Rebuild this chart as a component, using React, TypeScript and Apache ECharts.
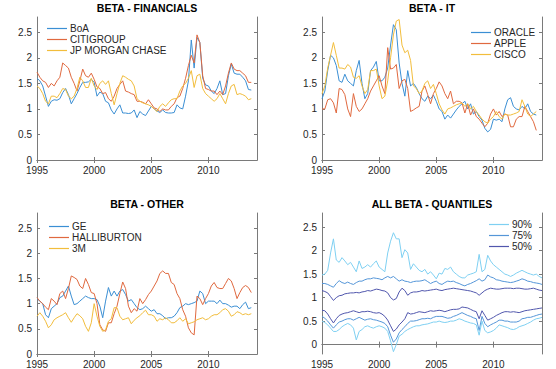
import React, { useEffect, useRef } from "react";
import * as echarts from "echarts";

// ---- data (quarterly, starting 1995 Q1) ----
const START_YEAR = 1995;
const STEP = 0.25;
const xTickYears = [1995, 2000, 2005, 2010];
const yTickValues = [0, 0.5, 1, 1.5, 2, 2.5];

const boa = [1.60,1.55,1.45,1.25, 1.05,1.15,1.18,1.17, 1.20,1.32,1.40,1.28, 1.10,1.20,1.30,1.42, 1.52,1.52,1.53,1.58, 1.52,1.25,1.33,1.30, 1.15,1.12,0.98,0.90, 1.00,1.08,0.92,0.92, 0.91,0.92,0.98,0.83, 0.95,0.90,0.87,0.96, 1.05,1.00,0.96,0.93, 0.98,0.93,0.92,0.92, 0.93,1.08,1.02,1.00, 1.25,1.55,2.35,1.80, 2.40,2.30,1.60,1.47, 1.45,1.35,1.30,1.40, 1.55,1.28,1.30,1.65, 1.88,1.70,1.68,1.68, 1.62,1.55,1.38,1.37];
const citigroup = [1.72,1.62,1.55,1.52, 1.42,1.50,1.45,1.55, 1.62,1.90,1.85,1.80, 1.62,1.50,1.35,1.55, 1.78,1.65,1.62,1.70, 1.58,1.43,1.40,1.30, 1.32,1.20,1.15,1.25, 1.40,1.48,1.55,1.35, 1.33,1.30,1.28,1.15, 1.15,1.13,1.10,1.18, 1.10,1.02,1.00,0.95, 1.00,0.98,0.98,1.05, 1.10,1.22,1.25,1.40, 1.60,1.85,2.05,1.90, 2.45,2.30,1.65,1.40, 1.38,1.35,1.35,1.28, 1.35,1.28,1.45,1.70, 1.90,1.78,1.75,1.75, 1.70,1.65,1.52,1.52];
const jpMorgan = [1.45,1.40,1.30,1.15, 1.10,1.25,1.25,1.22, 1.30,1.40,1.38,1.25, 1.20,1.25,1.40,1.62, 1.55,1.42,1.42,1.60, 1.45,1.38,1.50,1.55, 1.48,1.55,1.30,1.08, 1.30,1.50,1.65,1.62, 1.58,1.55,1.45,1.20, 1.15,1.12,1.10,1.08, 1.05,1.00,0.95,1.05, 1.10,1.05,1.12,1.18, 1.20,1.20,1.35,1.45, 1.50,1.60,1.75,1.42, 1.65,1.68,1.40,1.30, 1.25,1.20,1.15,1.20, 1.30,1.20,1.10,1.30, 1.45,1.48,1.28,1.30, 1.28,1.25,1.18,1.20];

const oracle = [1.20,1.35,1.75,2.05, 2.00,1.85,1.55,1.52, 1.68,1.55,1.50,1.45, 1.75,1.95,1.50,1.20, 1.30,1.75,1.82,1.93, 1.55,1.55,1.62,1.80, 2.25,2.65,2.55,1.90, 1.50,1.25,1.75,1.45, 1.50,1.42,1.30,1.20, 1.15,1.25,1.20,1.27, 1.15,1.00,0.95,0.80, 0.88,0.82,0.90,0.98, 1.05,1.10,1.15,1.00, 1.10,0.90,0.95,0.85, 0.78,0.62,0.55,0.60, 0.80,0.78,0.80,0.75, 1.00,1.18,1.22,1.05, 1.00,0.98,1.05,1.00, 1.10,0.95,0.90,0.88];
const apple = [1.00,1.00,1.18,1.20, 1.12,0.92,1.40,1.38, 1.28,1.00,0.85,1.30, 1.05,0.95,1.00,1.10, 1.20,1.35,1.45,1.55, 1.65,1.45,1.30,2.20, 1.78,1.80,1.87,1.40, 1.55,1.58,1.40,0.95, 0.98,1.02,1.05,1.35, 1.45,1.28,1.10,1.30, 1.40,1.53,1.45,1.30, 1.20,1.35,1.10,1.15, 1.15,1.12,0.92,1.10, 0.88,1.00,0.85,0.80, 0.72,0.65,0.72,0.90, 1.00,0.88,0.95,0.85, 0.90,0.88,0.65,0.65, 0.80,0.85,0.85,1.05, 0.95,0.85,0.75,0.58];
const cisco = [1.30,1.45,1.80,2.05, 2.30,2.05,1.80,1.80, 1.78,1.87,1.82,1.62, 1.60,1.65,1.45,1.30, 1.38,1.75,1.75,1.78, 1.45,1.20,1.25,1.55, 2.00,2.45,2.72,2.75, 2.25,2.10,2.15,1.95, 1.45,1.40,1.30,1.35, 1.50,1.55,1.40,1.48, 1.30,1.10,0.98,0.90, 1.00,1.02,1.05,1.08, 1.10,1.12,1.05,1.10, 1.00,1.05,0.95,0.88, 0.80,0.75,0.72,0.80, 0.85,0.95,0.85,0.80, 0.90,0.88,0.88,0.90, 0.92,0.95,1.18,1.05, 0.90,0.85,0.90,0.95];

const ge = [1.10,1.05,1.00,0.78, 0.72,0.90,0.95,1.00, 1.12,1.15,1.25,1.35, 1.15,0.98,1.00,1.05, 1.10,1.15,1.12,1.10, 1.10,1.08,0.95,0.72, 1.05,1.32,1.15,1.25, 1.15,1.25,1.28,1.18, 1.05,1.08,1.00,0.92, 0.88,0.90,0.95,0.90, 0.85,0.88,0.80,0.80, 0.76,0.70,0.72,0.72, 0.75,0.82,0.92,0.95, 1.00,0.98,1.00,1.02, 1.05,1.25,1.20,1.00, 1.05,1.05,1.05,1.00, 1.07,1.00,1.00,0.97, 0.93,0.95,0.95,0.90, 0.98,1.03,0.90,0.92];
const halliburton = [1.12,1.05,1.00,0.93, 0.88,1.10,1.05,0.98, 1.20,1.25,1.10,1.30, 1.55,1.52,1.48,1.35, 1.30,1.50,1.38,1.22, 1.20,1.00,0.58,0.48, 0.45,0.62,0.62,0.80, 0.95,1.20,1.43,1.30, 0.95,0.82,0.90,0.85, 1.10,1.00,1.08,1.18, 1.25,1.35,1.45,1.60, 1.65,1.60,1.60,1.42, 1.38,1.20,1.10,0.88, 0.75,0.52,0.42,0.38, 1.15,1.10,0.98,1.10, 1.20,1.35,1.42,1.32, 1.30,1.30,1.40,1.50, 1.45,1.30,1.10,1.22, 1.32,1.36,1.32,1.22];
const threeM = [0.75,0.82,0.75,0.65, 0.52,0.58,0.68,0.72, 0.75,0.78,0.82,0.72, 0.63,0.72,0.80,0.76, 0.70,0.55,0.45,0.62, 1.00,0.75,0.55,0.45, 0.48,0.65,0.70,0.92, 0.92,0.75,0.68,0.70, 0.72,0.60,0.67,0.72, 0.76,0.82,0.87,0.78, 0.78,0.75,0.65,0.70, 0.68,0.72,0.68,0.62, 0.62,0.66,0.72,0.65, 0.70,0.60,0.62,0.64, 0.68,0.70,0.72,0.68, 0.70,0.75,0.78,0.78, 0.82,0.88,0.90,0.85, 0.75,0.78,0.84,0.82, 0.78,0.80,0.78,0.80];

const q90Upper = [1.48,1.50,1.58,1.95, 2.25,1.80,1.75,1.85, 1.78,1.70,1.75,1.65, 1.55,1.78,1.62,1.65, 1.70,1.65,1.72,1.78, 1.65,1.60,1.55,1.95, 2.20,2.38,2.25,2.25, 1.85,2.02,1.95,1.60, 1.72,1.65,1.58,1.55, 1.60,1.50,1.55,1.48, 1.40,1.52,1.50,1.62, 1.60,1.65,1.55,1.50, 1.45,1.42,1.42,1.48, 1.50,1.52,1.55,1.92, 1.55,1.60,1.90,1.78, 1.70,1.65,1.60,1.55, 1.50,1.48,1.45,1.48, 1.52,1.55,1.58,1.55, 1.52,1.50,1.48,1.50, 1.45,1.42];
const q75Upper = [1.30,1.30,1.28,1.25, 1.22,1.30,1.36,1.32, 1.30,1.33,1.30,1.28, 1.32,1.35,1.35,1.38, 1.40,1.40,1.42,1.41, 1.40,1.38,1.42,1.45, 1.42,1.45,1.40,1.35, 1.38,1.35,1.34,1.32, 1.34,1.35,1.35,1.36, 1.38,1.34,1.30,1.33, 1.35,1.30,1.28,1.32, 1.35,1.34,1.35,1.32, 1.30,1.27,1.25,1.28, 1.30,1.33,1.36,1.40, 1.35,1.38,1.48,1.44, 1.42,1.38,1.37,1.35, 1.34,1.33,1.32,1.33, 1.35,1.37,1.40,1.38, 1.35,1.34,1.32,1.31, 1.30,1.28];
const q50Upper = [1.15,1.13,1.10,1.02, 0.94,1.00,1.04,1.05, 1.08,1.09,1.10,1.10, 1.11,1.10,1.12,1.13, 1.15,1.14,1.16,1.18, 1.17,1.15,1.14,1.10, 1.00,0.95,0.98,1.12, 1.20,1.15,1.05,1.10, 1.12,1.12,1.13,1.15, 1.14,1.15,1.16,1.17, 1.18,1.16,1.15,1.17, 1.18,1.19,1.20,1.19, 1.18,1.17,1.16,1.15, 1.14,1.12,1.10,1.05, 1.10,1.15,1.18,1.20, 1.19,1.18,1.18,1.19, 1.20,1.20,1.20,1.19, 1.20,1.20,1.19,1.18, 1.18,1.19,1.20,1.18, 1.16,1.15];
const q50Lower = [0.73,0.72,0.65,0.55, 0.46,0.55,0.62,0.65, 0.67,0.68,0.70,0.72, 0.70,0.68,0.70,0.70, 0.71,0.70,0.68,0.67, 0.68,0.65,0.60,0.52, 0.40,0.28,0.33,0.42, 0.48,0.55,0.68,0.65, 0.66,0.68,0.70,0.69, 0.68,0.70,0.72,0.71, 0.72,0.73,0.72,0.70, 0.72,0.74,0.75,0.75, 0.76,0.80,0.79,0.78, 0.75,0.72,0.70,0.55, 0.72,0.62,0.52,0.55, 0.58,0.62,0.65,0.68, 0.70,0.70,0.69,0.70, 0.69,0.68,0.70,0.72, 0.73,0.74,0.75,0.76, 0.77,0.78];
const q75Lower = [0.60,0.56,0.50,0.42, 0.35,0.42,0.48,0.50, 0.53,0.55,0.55,0.52, 0.55,0.58,0.55,0.52, 0.54,0.55,0.53,0.52, 0.50,0.48,0.45,0.38, 0.20,0.05,0.12,0.25, 0.32,0.38,0.45,0.50, 0.50,0.51,0.53,0.55, 0.55,0.56,0.55,0.58, 0.60,0.60,0.60,0.58, 0.56,0.57,0.60,0.62, 0.65,0.68,0.65,0.62, 0.60,0.57,0.55,0.30, 0.60,0.45,0.38,0.42, 0.45,0.48,0.52,0.52, 0.50,0.50,0.48,0.48, 0.48,0.50,0.55,0.56, 0.58,0.58,0.60,0.62, 0.64,0.65];
const q90Lower = [0.50,0.47,0.42,0.35, 0.28,0.28,0.32,0.38, 0.42,0.45,0.42,0.35, 0.10,0.28,0.32,0.38, 0.40,0.37,0.35,0.38, 0.40,0.38,0.35,0.28, 0.08,-0.15,0.00,0.18, 0.22,0.28,0.32,0.35, 0.38,0.40,0.40,0.42, 0.43,0.44,0.46,0.48, 0.48,0.50,0.48,0.47, 0.48,0.50,0.50,0.52, 0.55,0.53,0.50,0.48, 0.46,0.45,0.42,0.20, 0.50,0.30,0.25,0.27, 0.30,0.35,0.42,0.40, 0.38,0.36,0.33,0.32, 0.34,0.38,0.40,0.42, 0.45,0.48,0.52,0.55, 0.56,0.58];

// ---- styling ----
const FONT = "'Liberation Sans', Arial, Helvetica, sans-serif";
const AXIS_COLOR = "#7a7a7a";
const TEXT_COLOR = "#262626";
const C_BLUE = "#3b8fd4";
const C_ORANGE = "#e0693f";
const C_YELLOW = "#f2bd3c";
const C_Q90 = "#7fd0f2";
const C_Q75 = "#5596d8";
const C_Q50 = "#5157ad";

const X_MIN = 1995;
const X_MAX = 2014.25;
const Y_MAX = 2.8;

type S = { name: string; values: number[]; color: string };
type Panel = {
  title: string;
  grid: { left: number; top: number; width: number; height: number };
  yMin: number;
  series: S[];
  legendNames: string[];
  legend: { left: number; top: number };
};

const panels: Panel[] = [
  {
    title: "BETA - FINANCIALS",
    grid: { left: 37, top: 17, width: 220, height: 143 },
    yMin: 0,
    series: [
      { name: "BoA", values: boa, color: C_BLUE },
      { name: "CITIGROUP", values: citigroup, color: C_ORANGE },
      { name: "JP MORGAN CHASE", values: jpMorgan, color: C_YELLOW },
    ],
    legendNames: ["BoA", "CITIGROUP", "JP MORGAN CHASE"],
    legend: { left: 47, top: 23 },
  },
  {
    title: "BETA - IT",
    grid: { left: 322, top: 17, width: 220, height: 143 },
    yMin: 0,
    series: [
      { name: "ORACLE", values: oracle, color: C_BLUE },
      { name: "APPLE", values: apple, color: C_ORANGE },
      { name: "CISCO", values: cisco, color: C_YELLOW },
    ],
    legendNames: ["ORACLE", "APPLE", "CISCO"],
    legend: { left: 471, top: 27 },
  },
  {
    title: "BETA - OTHER",
    grid: { left: 37, top: 213, width: 220, height: 143 },
    yMin: 0,
    series: [
      { name: "GE", values: ge, color: C_BLUE },
      { name: "HALLIBURTON", values: halliburton, color: C_ORANGE },
      { name: "3M", values: threeM, color: C_YELLOW },
    ],
    legendNames: ["GE", "HALLIBURTON", "3M"],
    legend: { left: 49, top: 221 },
  },
  {
    title: "ALL BETA - QUANTILES",
    grid: { left: 322, top: 213, width: 220, height: 143 },
    yMin: -0.2,
    series: [
      { name: "90%", values: q90Upper, color: C_Q90 },
      { name: "75%", values: q75Upper, color: C_Q75 },
      { name: "50%", values: q50Upper, color: C_Q50 },
      { name: "50%", values: q50Lower, color: C_Q50 },
      { name: "75%", values: q75Lower, color: C_Q75 },
      { name: "90%", values: q90Lower, color: C_Q90 },
    ],
    legendNames: ["90%", "75%", "50%"],
    legend: { left: 489, top: 219 },
  },
];

function toPoints(values: number[]) {
  return values.map((v, i) => [START_YEAR + i * STEP, v]);
}

function buildOption() {
  const grids: any[] = [];
  const xAxes: any[] = [];
  const yAxes: any[] = [];
  const series: any[] = [];
  const legends: any[] = [];
  const graphics: any[] = [];

  panels.forEach((p, gi) => {
    grids.push({ ...p.grid, containLabel: false });
    const axisLine = { show: true, lineStyle: { color: AXIS_COLOR, width: 1 } };
    const tickStyle = { color: AXIS_COLOR, width: 1 };
    const labelBase = { color: TEXT_COLOR, fontSize: 10, fontFamily: FONT };
    ["bottom", "top"].forEach((pos, k) => {
      xAxes.push({
        type: "value",
        gridIndex: gi,
        position: pos,
        min: X_MIN,
        max: X_MAX,
        axisLine,
        splitLine: { show: false },
        axisTick: { show: true, inside: true, length: 3, customValues: xTickYears, lineStyle: tickStyle },
        axisLabel: k === 0
          ? { ...labelBase, show: true, margin: 5, customValues: xTickYears, formatter: (v: number) => String(v) }
          : { show: false },
      });
    });
    ["left", "right"].forEach((pos, k) => {
      yAxes.push({
        type: "value",
        gridIndex: gi,
        position: pos,
        min: p.yMin,
        max: Y_MAX,
        axisLine,
        splitLine: { show: false },
        axisTick: { show: true, inside: true, length: 3, customValues: yTickValues, lineStyle: tickStyle },
        axisLabel: k === 0
          ? { ...labelBase, show: true, margin: 5, customValues: yTickValues, formatter: (v: number) => String(v) }
          : { show: false },
      });
    });
    p.series.forEach((s) => {
      series.push({
        type: "line",
        name: s.name,
        xAxisIndex: gi * 2,
        yAxisIndex: gi * 2,
        data: toPoints(s.values),
        symbol: "none",
        showSymbol: false,
        lineStyle: { color: s.color, width: 1 },
        itemStyle: { color: s.color },
        emphasis: { disabled: true },
      });
    });
    legends.push({
      data: p.legendNames.map((n) => ({ name: n, icon: "rect" })),
      orient: "vertical",
      left: p.legend.left,
      top: p.legend.top,
      itemWidth: 20,
      itemHeight: 1.2,
      itemGap: 0,
      padding: 0,
      selectedMode: false,
      textStyle: { color: TEXT_COLOR, fontSize: 10, fontFamily: FONT, lineHeight: 11, padding: [0, 0, 0, -2] },
    });
    graphics.push({
      type: "text",
      x: p.grid.left + p.grid.width / 2,
      y: p.grid.top - 9,
      style: {
        text: p.title,
        align: "center",
        verticalAlign: "middle",
        fill: "#000",
        font: `bold 10.5px ${FONT}`,
      },
    });
  });

  return {
    animation: false,
    backgroundColor: "#ffffff",
    grid: grids,
    xAxis: xAxes,
    yAxis: yAxes,
    series,
    legend: legends,
    graphic: graphics,
  };
}

export default function App() {
  const ref = useRef<HTMLDivElement>(null);
  useEffect(() => {
    if (!ref.current) return;
    const chart = echarts.init(ref.current, null, { renderer: "svg" });
    chart.setOption(buildOption() as any);
    return () => chart.dispose();
  }, []);
  return (
    <div
      ref={ref}
      style={{ width: 556, height: 369, position: "absolute", left: 0, top: 0, background: "#fff" }}
    />
  );
}
